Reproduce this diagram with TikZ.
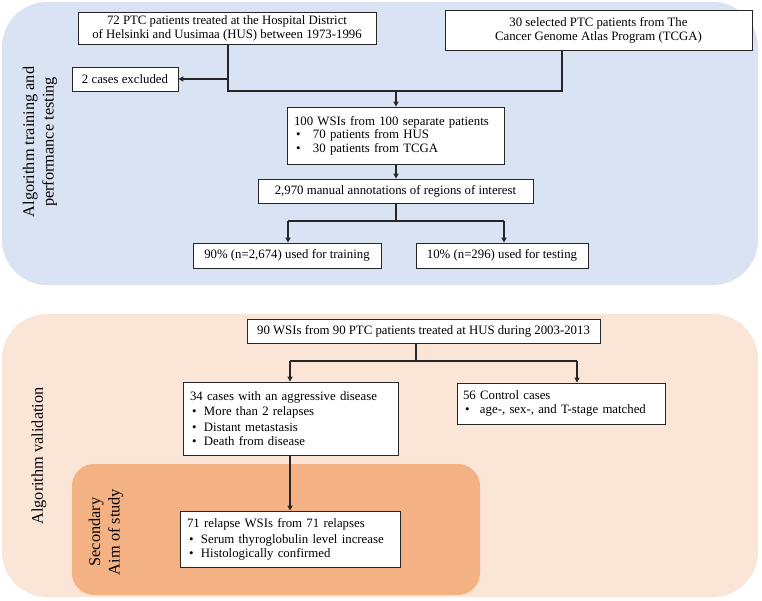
\documentclass[tikz,border=0pt]{standalone}
\usepackage{fontspec}
\setmainfont{Liberation Serif}
\usetikzlibrary{arrows.meta}
\definecolor{topbg}{HTML}{DAE3F3}
\definecolor{botbg}{HTML}{FBE5D6}
\definecolor{secbg}{HTML}{F4B183}
\newcommand{\bul}[1]{\makebox[#1][l]{\hspace{2pt}•}}
\begin{document}
\begin{tikzpicture}[x=1pt,y=-1pt,
  box/.style={draw=black!85, line width=0.8pt, fill=white, inner sep=0pt, font=\fontsize{12.8}{14}\selectfont},
  lbox/.style={box, align=left, inner xsep=7pt},
  conn/.style={line width=1.1pt, draw=black!85},
  arr/.style={conn, -{Triangle[length=5pt,width=5pt]}},
  side/.style={rotate=90, align=center, font=\fontsize{16.3}{19.5}\selectfont}]
\useasboundingbox (0,0) rectangle (762,601);
% backgrounds
\fill[topbg, rounded corners=45pt] (2,2) rectangle (758,285);
\fill[botbg, rounded corners=45pt] (2,314) rectangle (758,597);
\fill[secbg, rounded corners=22pt] (72,464) rectangle (480,595);
% side labels
\node[side] (lt) at (40,142) {Algorithm training and\\performance testing};
\node[side] (lv) at (39,456) {Algorithm validation};
\node[side] (ls) at (106,532) {Secondary\\Aim of study};
% top boxes
\node[box, minimum width=298pt, minimum height=32pt, align=center] (b1) at (227,28)
  {72 PTC patients treated at the Hospital District\\of Helsinki and Uusimaa (HUS) between 1973-1996};
\node[box, minimum width=307pt, minimum height=40pt, align=center] (b2) at (598.5,30)
  {30 selected PTC patients from The\\Cancer Genome Atlas Program (TCGA)};
\node[box, minimum width=106pt, minimum height=24pt] (ex) at (125,79) {2 cases excluded};
\node[lbox, text width=203pt, minimum height=57pt] (b3) at (395.5,135.5)
  {\fontsize{12.8}{13}\selectfont 100 WSIs from 100 separate patients\\\bul{19pt}70 patients from HUS\\\bul{19pt}30 patients from TCGA};
\node[box, minimum width=275pt, minimum height=24pt] (b4) at (395.5,191)
  {2,970 manual annotations of regions of interest};
\node[box, minimum width=188pt, minimum height=25pt] (b5) at (287,255.5)
  {90\% (n=2,674) used for training};
\node[box, minimum width=172pt, minimum height=25pt] (b6) at (502,255.5)
  {10\% (n=296) used for testing};
% bottom boxes
\node[box, minimum width=353pt, minimum height=24pt] (b7) at (423.5,331)
  {90 WSIs from 90 PTC patients treated at HUS during 2003-2013};
\node[lbox, text width=201pt, minimum height=73pt] (b8) at (290.5,418.5)
  {\fontsize{12.8}{15.3}\selectfont 34 cases with an aggressive disease\\\bul{14pt}More than 2 relapses\\\bul{14pt}Distant metastasis\\\bul{14pt}Death from disease};
\node[lbox, inner xsep=6pt, text width=196pt, minimum height=41pt] (b9) at (561,403.5)
  {\fontsize{12.8}{13.5}\selectfont 56 Control cases\\\bul{17pt}age-, sex-, and T-stage matched};
\node[lbox, text width=206pt, minimum height=56pt] (b10) at (290,539)
  {\fontsize{12.8}{16}\selectfont 71 relapse WSIs from 71 relapses\\\bul{14pt}Serum thyroglobulin level increase\\\bul{14pt}Histologically confirmed};
% connector coordinates
\coordinate (j1) at (228,91);
\coordinate (j2) at (562,91);
\coordinate (j3) at (396,91);
\coordinate (e1) at (228,79);
\coordinate (s4) at (396,221);
\coordinate (l4) at (288,221);
\coordinate (r4) at (504,221);
\coordinate (s7) at (416,361);
\coordinate (l7) at (290,361);
\coordinate (r7) at (577,361);
% connectors
\draw[conn] (b1.south -| j1) -- (j1) -- (j2) -- (b2.south -| j2);
\draw[arr] (e1) -- (ex.east);
\draw[arr] (j3) -- (b3.north -| j3);
\draw[arr] (b3.south -| j3) -- (b4.north -| j3);
\draw[conn] (b4.south -| s4) -- (s4);
\draw[conn] (l4) -- (r4);
\draw[arr] (l4) -- (b5.north -| l4);
\draw[arr] (r4) -- (b6.north -| r4);
\draw[conn] (b7.south -| s7) -- (s7);
\draw[conn] (l7) -- (r7);
\draw[arr] (l7) -- (b8.north -| l7);
\draw[arr] (r7) -- (b9.north -| r7);
\draw[arr] (b8.south -| l7) -- (b10.north -| l7);
\end{tikzpicture}
\end{document}
